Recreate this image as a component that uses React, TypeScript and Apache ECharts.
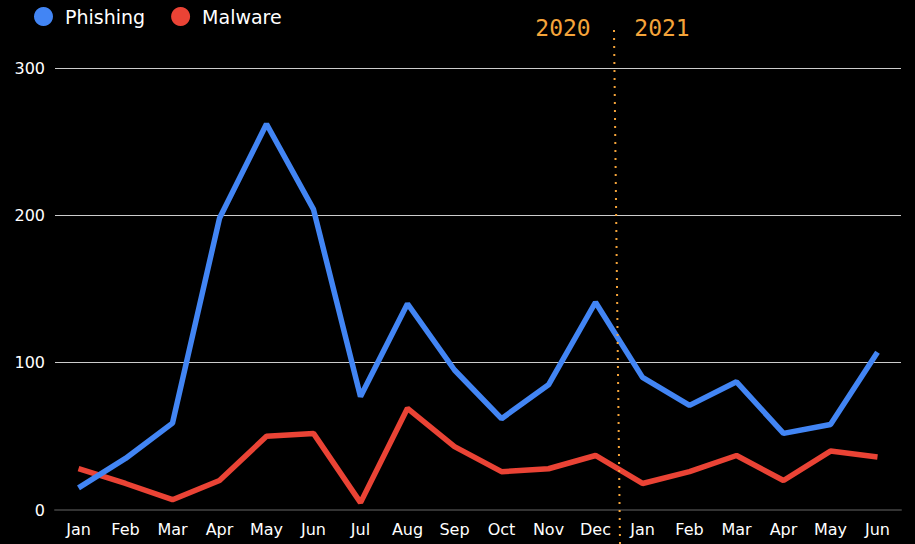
import React, { useEffect, useRef } from "react";
import * as echarts from "echarts";

const months = ["Jan", "Feb", "Mar", "Apr", "May", "Jun", "Jul", "Aug", "Sep", "Oct", "Nov", "Dec", "Jan", "Feb", "Mar", "Apr", "May", "Jun"];
const phishing = [15, 35, 59, 198, 262, 204, 77, 140, 95, 62, 85, 141, 90, 71, 87, 52, 58, 107];
const malware = [28, 18, 7, 20, 50, 52, 5, 69, 43, 26, 28, 37, 18, 26, 37, 20, 40, 36];
const yearLabels = ["2020", "2021"];

export default function App() {
  const ref = useRef<HTMLDivElement>(null);
  useEffect(() => {
    const chart = echarts.init(ref.current!, null, { renderer: "svg" });
    chart.setOption({
      animation: false,
      backgroundColor: "#000",
      textStyle: { fontFamily: "DejaVu Sans" },
      legend: {
        left: 29,
        top: 2,
        icon: "circle",
        itemWidth: 19,
        itemHeight: 19,
        itemGap: 26,
        textStyle: { color: "#fff", fontSize: 19, fontFamily: "DejaVu Sans", padding: [0, 0, 0, 7] },
        data: ["Phishing", "Malware"],
      },
      grid: { left: 55, right: 14, top: 68, bottom: 34, containLabel: false },
      xAxis: {
        type: "category",
        data: months,
        boundaryGap: true,
        axisLine: { show: true, lineStyle: { color: "#333", width: 2 } },
        axisTick: { show: false },
        axisLabel: { color: "#fff", fontSize: 16, margin: 11 },
      },
      yAxis: {
        type: "value",
        min: 0,
        max: 300,
        interval: 100,
        axisLine: { show: false },
        axisTick: { show: false },
        axisLabel: { color: "#fff", fontSize: 16, margin: 10 },
        splitLine: { show: true, lineStyle: { color: "#ccc", width: 1 } },
      },
      series: [
        {
          name: "Phishing",
          type: "line",
          data: phishing,
          showSymbol: false,
          symbol: "circle",
          itemStyle: { color: "#4285F4" },
          lineStyle: { color: "#4285F4", width: 5.5 },
          z: 3,
        },
        {
          name: "Malware",
          type: "line",
          data: malware,
          showSymbol: false,
          symbol: "circle",
          itemStyle: { color: "#EA4335" },
          lineStyle: { color: "#EA4335", width: 5.5 },
          z: 2,
        },
      ],
      graphic: [
        {
          type: "line",
          shape: { x1: 614, y1: 30, x2: 620, y2: 544 },
          style: { stroke: "#F4A43A", lineWidth: 2, lineDash: [2, 6] },
          z: 10,
        },
        {
          type: "text",
          x: 563,
          y: 28,
          style: {
            text: yearLabels[0],
            fill: "#F4A43A",
            fontSize: 23,
            fontFamily: "DejaVu Sans Mono",
            align: "center",
            verticalAlign: "middle",
          },
        },
        {
          type: "text",
          x: 662,
          y: 28,
          style: {
            text: yearLabels[1],
            fill: "#F4A43A",
            fontSize: 23,
            fontFamily: "DejaVu Sans Mono",
            align: "center",
            verticalAlign: "middle",
          },
        },
      ],
    });
    return () => chart.dispose();
  }, []);
  return <div ref={ref} style={{ width: 915, height: 544, position: "fixed", left: 0, top: 0 }} />;
}
